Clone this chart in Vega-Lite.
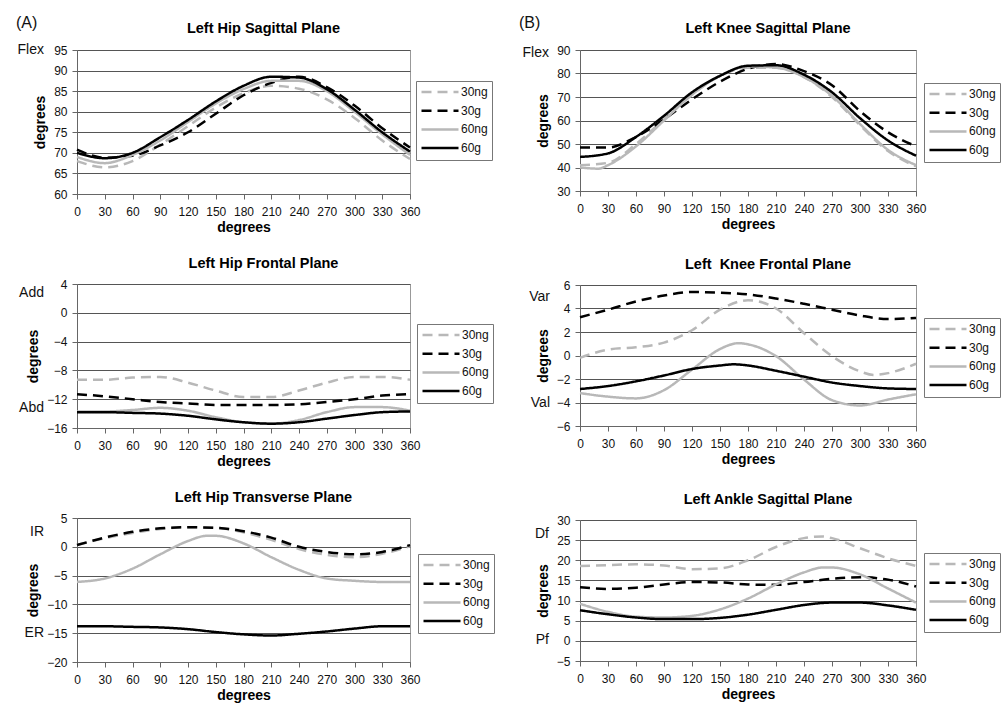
{
"$schema": "https://vega.github.io/schema/vega-lite/v6.json",
"padding": {"left": 15, "top": 14, "right": 5, "bottom": 5},
"background": "white",
"config": {
  "font": "Liberation Sans",
  "view": {"stroke": "#999", "strokeWidth": 1},
  "axis": {"domainColor": "#666", "tickColor": "#666", "labelFont": "Liberation Sans", "labelFontSize": 12, "labelColor": "#111", "titleFont": "Liberation Sans", "titleFontSize": 14, "titleFontWeight": "bold", "titleColor": "#000", "tickSize": 5, "gridColor": "#555", "gridWidth": 1},
  "axisX": {"grid": false, "labelPadding": 7, "titlePadding": 3, "labelFlush": false, "labelOverlap": false},
  "axisY": {"grid": true, "labelPadding": 5, "titlePadding": 6, "labelOverlap": false},
  "title": {"font": "Liberation Sans", "fontSize": 14.5, "fontWeight": "bold", "color": "#000", "offset": 7, "dx": 20},
  "legend": {"title": null, "orient": "none", "strokeColor": "#777", "fillColor": "white", "padding": 4, "symbolType": "stroke", "symbolSize": 1369, "symbolStrokeWidth": 2.5, "labelFont": "Liberation Sans", "labelFontSize": 12, "labelColor": "#111", "labelOffset": 1, "clipHeight": 14, "rowPadding": 4.7},
  "line": {"strokeWidth": 2.5, "interpolate": "monotone"},
  "text": {"font": "Liberation Sans", "color": "#111"}
},
"datasets": {
  "curves": [
    {"p":"A1","c":"30ng","x":0,"y":68},{"p":"A1","c":"30ng","x":30,"y":66.5},{"p":"A1","c":"30ng","x":60,"y":68},{"p":"A1","c":"30ng","x":90,"y":72},{"p":"A1","c":"30ng","x":120,"y":76.5},{"p":"A1","c":"30ng","x":150,"y":81},{"p":"A1","c":"30ng","x":180,"y":84.5},{"p":"A1","c":"30ng","x":210,"y":86.3},{"p":"A1","c":"30ng","x":240,"y":85.6},{"p":"A1","c":"30ng","x":270,"y":83},{"p":"A1","c":"30ng","x":300,"y":78.5},{"p":"A1","c":"30ng","x":330,"y":73},{"p":"A1","c":"30ng","x":360,"y":68.5},
    {"p":"A1","c":"30g","x":0,"y":70.8},{"p":"A1","c":"30g","x":30,"y":68.8},{"p":"A1","c":"30g","x":60,"y":69.3},{"p":"A1","c":"30g","x":90,"y":71.8},{"p":"A1","c":"30g","x":120,"y":75},{"p":"A1","c":"30g","x":150,"y":79.5},{"p":"A1","c":"30g","x":180,"y":84},{"p":"A1","c":"30g","x":210,"y":87},{"p":"A1","c":"30g","x":240,"y":88.5},{"p":"A1","c":"30g","x":270,"y":86},{"p":"A1","c":"30g","x":300,"y":81.5},{"p":"A1","c":"30g","x":330,"y":76},{"p":"A1","c":"30g","x":360,"y":71.3},
    {"p":"A1","c":"60ng","x":0,"y":69},{"p":"A1","c":"60ng","x":30,"y":67.5},{"p":"A1","c":"60ng","x":60,"y":69.5},{"p":"A1","c":"60ng","x":90,"y":73},{"p":"A1","c":"60ng","x":120,"y":77.5},{"p":"A1","c":"60ng","x":150,"y":82},{"p":"A1","c":"60ng","x":180,"y":85.5},{"p":"A1","c":"60ng","x":210,"y":87.5},{"p":"A1","c":"60ng","x":240,"y":87.5},{"p":"A1","c":"60ng","x":270,"y":85},{"p":"A1","c":"60ng","x":300,"y":80},{"p":"A1","c":"60ng","x":330,"y":74.5},{"p":"A1","c":"60ng","x":360,"y":69.5},
    {"p":"A1","c":"60g","x":0,"y":70},{"p":"A1","c":"60g","x":30,"y":68.7},{"p":"A1","c":"60g","x":60,"y":70},{"p":"A1","c":"60g","x":90,"y":73.8},{"p":"A1","c":"60g","x":120,"y":78},{"p":"A1","c":"60g","x":150,"y":82.5},{"p":"A1","c":"60g","x":180,"y":86.3},{"p":"A1","c":"60g","x":210,"y":88.5},{"p":"A1","c":"60g","x":240,"y":88.3},{"p":"A1","c":"60g","x":270,"y":85.5},{"p":"A1","c":"60g","x":300,"y":80.5},{"p":"A1","c":"60g","x":330,"y":75},{"p":"A1","c":"60g","x":360,"y":70.3},

    {"p":"B1","c":"30ng","x":0,"y":41},{"p":"B1","c":"30ng","x":30,"y":42},{"p":"B1","c":"30ng","x":60,"y":50},{"p":"B1","c":"30ng","x":90,"y":60.5},{"p":"B1","c":"30ng","x":120,"y":71},{"p":"B1","c":"30ng","x":150,"y":79},{"p":"B1","c":"30ng","x":180,"y":82.5},{"p":"B1","c":"30ng","x":210,"y":82.5},{"p":"B1","c":"30ng","x":240,"y":78.5},{"p":"B1","c":"30ng","x":270,"y":70},{"p":"B1","c":"30ng","x":300,"y":58},{"p":"B1","c":"30ng","x":330,"y":47},{"p":"B1","c":"30ng","x":360,"y":40.5},
    {"p":"B1","c":"30g","x":0,"y":48.5},{"p":"B1","c":"30g","x":30,"y":48.5},{"p":"B1","c":"30g","x":60,"y":53},{"p":"B1","c":"30g","x":90,"y":60.5},{"p":"B1","c":"30g","x":120,"y":69},{"p":"B1","c":"30g","x":150,"y":76.5},{"p":"B1","c":"30g","x":180,"y":82},{"p":"B1","c":"30g","x":210,"y":84},{"p":"B1","c":"30g","x":240,"y":81},{"p":"B1","c":"30g","x":270,"y":75},{"p":"B1","c":"30g","x":300,"y":64},{"p":"B1","c":"30g","x":330,"y":55},{"p":"B1","c":"30g","x":360,"y":49},
    {"p":"B1","c":"60ng","x":0,"y":40},{"p":"B1","c":"60ng","x":20,"y":39.5},{"p":"B1","c":"60ng","x":30,"y":41},{"p":"B1","c":"60ng","x":60,"y":49},{"p":"B1","c":"60ng","x":90,"y":60},{"p":"B1","c":"60ng","x":120,"y":71},{"p":"B1","c":"60ng","x":150,"y":79},{"p":"B1","c":"60ng","x":180,"y":83},{"p":"B1","c":"60ng","x":210,"y":82.5},{"p":"B1","c":"60ng","x":240,"y":78.5},{"p":"B1","c":"60ng","x":270,"y":70.5},{"p":"B1","c":"60ng","x":300,"y":58.5},{"p":"B1","c":"60ng","x":330,"y":47.5},{"p":"B1","c":"60ng","x":360,"y":41},
    {"p":"B1","c":"60g","x":0,"y":44.5},{"p":"B1","c":"60g","x":30,"y":46},{"p":"B1","c":"60g","x":60,"y":53},{"p":"B1","c":"60g","x":90,"y":62},{"p":"B1","c":"60g","x":120,"y":72},{"p":"B1","c":"60g","x":150,"y":79},{"p":"B1","c":"60g","x":180,"y":83.3},{"p":"B1","c":"60g","x":210,"y":83.5},{"p":"B1","c":"60g","x":240,"y":79.5},{"p":"B1","c":"60g","x":270,"y":72},{"p":"B1","c":"60g","x":300,"y":61},{"p":"B1","c":"60g","x":330,"y":51.5},{"p":"B1","c":"60g","x":360,"y":45},

    {"p":"A2","c":"30ng","x":0,"y":-9.3},{"p":"A2","c":"30ng","x":30,"y":-9.3},{"p":"A2","c":"30ng","x":60,"y":-9.0},{"p":"A2","c":"30ng","x":90,"y":-8.9},{"p":"A2","c":"30ng","x":120,"y":-9.7},{"p":"A2","c":"30ng","x":150,"y":-10.8},{"p":"A2","c":"30ng","x":180,"y":-11.7},{"p":"A2","c":"30ng","x":210,"y":-11.7},{"p":"A2","c":"30ng","x":240,"y":-10.8},{"p":"A2","c":"30ng","x":270,"y":-9.7},{"p":"A2","c":"30ng","x":300,"y":-8.9},{"p":"A2","c":"30ng","x":330,"y":-8.9},{"p":"A2","c":"30ng","x":360,"y":-9.3},
    {"p":"A2","c":"30g","x":0,"y":-11.3},{"p":"A2","c":"30g","x":30,"y":-11.6},{"p":"A2","c":"30g","x":60,"y":-12.0},{"p":"A2","c":"30g","x":90,"y":-12.4},{"p":"A2","c":"30g","x":120,"y":-12.6},{"p":"A2","c":"30g","x":150,"y":-12.8},{"p":"A2","c":"30g","x":180,"y":-12.8},{"p":"A2","c":"30g","x":210,"y":-12.8},{"p":"A2","c":"30g","x":240,"y":-12.7},{"p":"A2","c":"30g","x":270,"y":-12.4},{"p":"A2","c":"30g","x":300,"y":-12.0},{"p":"A2","c":"30g","x":330,"y":-11.5},{"p":"A2","c":"30g","x":360,"y":-11.3},
    {"p":"A2","c":"60ng","x":0,"y":-13.7},{"p":"A2","c":"60ng","x":30,"y":-13.7},{"p":"A2","c":"60ng","x":60,"y":-13.5},{"p":"A2","c":"60ng","x":90,"y":-13.2},{"p":"A2","c":"60ng","x":120,"y":-13.6},{"p":"A2","c":"60ng","x":150,"y":-14.5},{"p":"A2","c":"60ng","x":180,"y":-15.2},{"p":"A2","c":"60ng","x":210,"y":-15.4},{"p":"A2","c":"60ng","x":240,"y":-14.9},{"p":"A2","c":"60ng","x":270,"y":-13.8},{"p":"A2","c":"60ng","x":300,"y":-13.1},{"p":"A2","c":"60ng","x":330,"y":-13.1},{"p":"A2","c":"60ng","x":360,"y":-13.6},
    {"p":"A2","c":"60g","x":0,"y":-13.8},{"p":"A2","c":"60g","x":30,"y":-13.8},{"p":"A2","c":"60g","x":60,"y":-13.9},{"p":"A2","c":"60g","x":90,"y":-14.0},{"p":"A2","c":"60g","x":120,"y":-14.3},{"p":"A2","c":"60g","x":150,"y":-14.8},{"p":"A2","c":"60g","x":180,"y":-15.2},{"p":"A2","c":"60g","x":210,"y":-15.4},{"p":"A2","c":"60g","x":240,"y":-15.2},{"p":"A2","c":"60g","x":270,"y":-14.7},{"p":"A2","c":"60g","x":300,"y":-14.2},{"p":"A2","c":"60g","x":330,"y":-13.8},{"p":"A2","c":"60g","x":360,"y":-13.7},

    {"p":"B2","c":"30ng","x":0,"y":-0.2},{"p":"B2","c":"30ng","x":30,"y":0.5},{"p":"B2","c":"30ng","x":60,"y":0.7},{"p":"B2","c":"30ng","x":90,"y":1.1},{"p":"B2","c":"30ng","x":120,"y":2.15},{"p":"B2","c":"30ng","x":150,"y":3.9},{"p":"B2","c":"30ng","x":180,"y":4.7},{"p":"B2","c":"30ng","x":210,"y":4.0},{"p":"B2","c":"30ng","x":240,"y":1.9},{"p":"B2","c":"30ng","x":270,"y":-0.05},{"p":"B2","c":"30ng","x":300,"y":-1.35},{"p":"B2","c":"30ng","x":315,"y":-1.65},{"p":"B2","c":"30ng","x":330,"y":-1.5},{"p":"B2","c":"30ng","x":360,"y":-0.7},
    {"p":"B2","c":"30g","x":0,"y":3.26},{"p":"B2","c":"30g","x":30,"y":3.9},{"p":"B2","c":"30g","x":60,"y":4.6},{"p":"B2","c":"30g","x":90,"y":5.1},{"p":"B2","c":"30g","x":120,"y":5.4},{"p":"B2","c":"30g","x":150,"y":5.35},{"p":"B2","c":"30g","x":180,"y":5.2},{"p":"B2","c":"30g","x":210,"y":4.85},{"p":"B2","c":"30g","x":240,"y":4.4},{"p":"B2","c":"30g","x":270,"y":3.9},{"p":"B2","c":"30g","x":300,"y":3.4},{"p":"B2","c":"30g","x":330,"y":3.1},{"p":"B2","c":"30g","x":360,"y":3.2},
    {"p":"B2","c":"60ng","x":0,"y":-3.2},{"p":"B2","c":"60ng","x":30,"y":-3.5},{"p":"B2","c":"60ng","x":60,"y":-3.65},{"p":"B2","c":"60ng","x":90,"y":-2.95},{"p":"B2","c":"60ng","x":120,"y":-1.2},{"p":"B2","c":"60ng","x":150,"y":0.55},{"p":"B2","c":"60ng","x":170,"y":1.05},{"p":"B2","c":"60ng","x":180,"y":0.95},{"p":"B2","c":"60ng","x":210,"y":-0.05},{"p":"B2","c":"60ng","x":240,"y":-2.05},{"p":"B2","c":"60ng","x":270,"y":-3.8},{"p":"B2","c":"60ng","x":300,"y":-4.25},{"p":"B2","c":"60ng","x":330,"y":-3.75},{"p":"B2","c":"60ng","x":360,"y":-3.3},
    {"p":"B2","c":"60g","x":0,"y":-2.85},{"p":"B2","c":"60g","x":30,"y":-2.6},{"p":"B2","c":"60g","x":60,"y":-2.2},{"p":"B2","c":"60g","x":90,"y":-1.7},{"p":"B2","c":"60g","x":120,"y":-1.15},{"p":"B2","c":"60g","x":150,"y":-0.85},{"p":"B2","c":"60g","x":165,"y":-0.75},{"p":"B2","c":"60g","x":180,"y":-0.85},{"p":"B2","c":"60g","x":210,"y":-1.3},{"p":"B2","c":"60g","x":240,"y":-1.8},{"p":"B2","c":"60g","x":270,"y":-2.3},{"p":"B2","c":"60g","x":300,"y":-2.6},{"p":"B2","c":"60g","x":330,"y":-2.8},{"p":"B2","c":"60g","x":360,"y":-2.85},

    {"p":"A3","c":"30ng","x":0,"y":0.3},{"p":"A3","c":"30ng","x":30,"y":1.5},{"p":"A3","c":"30ng","x":60,"y":2.4},{"p":"A3","c":"30ng","x":90,"y":3.1},{"p":"A3","c":"30ng","x":120,"y":3.4},{"p":"A3","c":"30ng","x":150,"y":3.3},{"p":"A3","c":"30ng","x":180,"y":2.5},{"p":"A3","c":"30ng","x":210,"y":1.2},{"p":"A3","c":"30ng","x":240,"y":-0.4},{"p":"A3","c":"30ng","x":270,"y":-1.4},{"p":"A3","c":"30ng","x":300,"y":-1.8},{"p":"A3","c":"30ng","x":330,"y":-1.2},{"p":"A3","c":"30ng","x":360,"y":0.1},
    {"p":"A3","c":"30g","x":0,"y":0.3},{"p":"A3","c":"30g","x":30,"y":1.6},{"p":"A3","c":"30g","x":60,"y":2.6},{"p":"A3","c":"30g","x":90,"y":3.2},{"p":"A3","c":"30g","x":120,"y":3.4},{"p":"A3","c":"30g","x":150,"y":3.3},{"p":"A3","c":"30g","x":180,"y":2.7},{"p":"A3","c":"30g","x":210,"y":1.6},{"p":"A3","c":"30g","x":240,"y":0},{"p":"A3","c":"30g","x":270,"y":-0.9},{"p":"A3","c":"30g","x":300,"y":-1.3},{"p":"A3","c":"30g","x":330,"y":-0.9},{"p":"A3","c":"30g","x":360,"y":0.3},
    {"p":"A3","c":"60ng","x":0,"y":-6.1},{"p":"A3","c":"60ng","x":30,"y":-5.5},{"p":"A3","c":"60ng","x":60,"y":-3.8},{"p":"A3","c":"60ng","x":90,"y":-1.3},{"p":"A3","c":"60ng","x":120,"y":1.0},{"p":"A3","c":"60ng","x":140,"y":1.9},{"p":"A3","c":"60ng","x":150,"y":1.9},{"p":"A3","c":"60ng","x":180,"y":0.6},{"p":"A3","c":"60ng","x":210,"y":-1.8},{"p":"A3","c":"60ng","x":240,"y":-4.0},{"p":"A3","c":"60ng","x":270,"y":-5.5},{"p":"A3","c":"60ng","x":300,"y":-5.9},{"p":"A3","c":"60ng","x":330,"y":-6.1},{"p":"A3","c":"60ng","x":360,"y":-6.1},
    {"p":"A3","c":"60g","x":0,"y":-13.8},{"p":"A3","c":"60g","x":30,"y":-13.8},{"p":"A3","c":"60g","x":60,"y":-13.9},{"p":"A3","c":"60g","x":90,"y":-14.0},{"p":"A3","c":"60g","x":120,"y":-14.3},{"p":"A3","c":"60g","x":150,"y":-14.8},{"p":"A3","c":"60g","x":180,"y":-15.2},{"p":"A3","c":"60g","x":210,"y":-15.4},{"p":"A3","c":"60g","x":240,"y":-15.1},{"p":"A3","c":"60g","x":270,"y":-14.7},{"p":"A3","c":"60g","x":300,"y":-14.2},{"p":"A3","c":"60g","x":330,"y":-13.8},{"p":"A3","c":"60g","x":360,"y":-13.8},

    {"p":"B3","c":"30ng","x":0,"y":18.6},{"p":"B3","c":"30ng","x":30,"y":18.8},{"p":"B3","c":"30ng","x":60,"y":19},{"p":"B3","c":"30ng","x":90,"y":18.7},{"p":"B3","c":"30ng","x":120,"y":17.8},{"p":"B3","c":"30ng","x":150,"y":18},{"p":"B3","c":"30ng","x":180,"y":20},{"p":"B3","c":"30ng","x":210,"y":23.3},{"p":"B3","c":"30ng","x":240,"y":25.5},{"p":"B3","c":"30ng","x":260,"y":25.9},{"p":"B3","c":"30ng","x":270,"y":25.5},{"p":"B3","c":"30ng","x":300,"y":23},{"p":"B3","c":"30ng","x":330,"y":20.5},{"p":"B3","c":"30ng","x":360,"y":18.6},
    {"p":"B3","c":"30g","x":0,"y":13.3},{"p":"B3","c":"30g","x":30,"y":12.9},{"p":"B3","c":"30g","x":60,"y":13.2},{"p":"B3","c":"30g","x":90,"y":14.0},{"p":"B3","c":"30g","x":120,"y":14.6},{"p":"B3","c":"30g","x":150,"y":14.5},{"p":"B3","c":"30g","x":180,"y":14.0},{"p":"B3","c":"30g","x":210,"y":13.9},{"p":"B3","c":"30g","x":240,"y":14.6},{"p":"B3","c":"30g","x":270,"y":15.4},{"p":"B3","c":"30g","x":300,"y":15.8},{"p":"B3","c":"30g","x":330,"y":15.2},{"p":"B3","c":"30g","x":360,"y":13.5},
    {"p":"B3","c":"60ng","x":0,"y":9.2},{"p":"B3","c":"60ng","x":30,"y":7.2},{"p":"B3","c":"60ng","x":60,"y":6.0},{"p":"B3","c":"60ng","x":90,"y":5.8},{"p":"B3","c":"60ng","x":120,"y":6.2},{"p":"B3","c":"60ng","x":150,"y":7.8},{"p":"B3","c":"60ng","x":180,"y":10.5},{"p":"B3","c":"60ng","x":210,"y":14.0},{"p":"B3","c":"60ng","x":240,"y":17.0},{"p":"B3","c":"60ng","x":260,"y":18.2},{"p":"B3","c":"60ng","x":270,"y":18.2},{"p":"B3","c":"60ng","x":300,"y":16.5},{"p":"B3","c":"60ng","x":330,"y":13},{"p":"B3","c":"60ng","x":360,"y":9.5},
    {"p":"B3","c":"60g","x":0,"y":7.6},{"p":"B3","c":"60g","x":30,"y":6.6},{"p":"B3","c":"60g","x":60,"y":5.8},{"p":"B3","c":"60g","x":90,"y":5.4},{"p":"B3","c":"60g","x":120,"y":5.4},{"p":"B3","c":"60g","x":150,"y":5.7},{"p":"B3","c":"60g","x":180,"y":6.5},{"p":"B3","c":"60g","x":210,"y":7.7},{"p":"B3","c":"60g","x":240,"y":8.9},{"p":"B3","c":"60g","x":270,"y":9.5},{"p":"B3","c":"60g","x":300,"y":9.5},{"p":"B3","c":"60g","x":330,"y":8.8},{"p":"B3","c":"60g","x":360,"y":7.7}
  ],
  "labels": [
    {"p":"A1","t":"Flex","y":95},{"p":"B1","t":"Flex","y":90},
    {"p":"A2","t":"Add","y":2.8},{"p":"A2","t":"Abd","y":-13.2},
    {"p":"B2","t":"Var","y":4.95},{"p":"B2","t":"Val","y":-4.07},
    {"p":"A3","t":"IR","y":2.55},{"p":"A3","t":"ER","y":-14.9},
    {"p":"B3","t":"Df","y":26.5},{"p":"B3","t":"Pf","y":0.2}
  ],
  "letters": [
    {"p":"A1","t":"(A)","y":95},{"p":"B1","t":"(B)","y":90}
  ]
},
"spacing": 23,
"resolve": {"scale": {"color": "independent", "strokeDash": "independent"}, "legend": {"color": "independent", "strokeDash": "independent"}},
"hconcat": [
 {
  "bounds": "flush",
  "spacing": 90,
  "resolve": {"scale": {"color": "independent", "strokeDash": "independent"}, "legend": {"color": "independent", "strokeDash": "independent"}},
  "vconcat": [
   {
    "width": 333, "height": 144,
    "title": {"text": "Left Hip Sagittal Plane", "dy": 28},
    "layer": [
     {"data": {"name": "curves"}, "transform": [{"filter": "datum.p == 'A1'"}], "mark": {"type": "line"},
      "encoding": {
       "x": {"field": "x", "type": "quantitative", "scale": {"domain": [0, 360], "nice": false}, "axis": {"values": [0,30,60,90,120,150,180,210,240,270,300,330,360], "title": "degrees"}},
       "y": {"field": "y", "type": "quantitative", "scale": {"domain": [60, 95], "nice": false, "zero": false}, "axis": {"values": [60,65,70,75,80,85,90,95], "title": "degrees"}},
       "color": {"field": "c", "type": "nominal", "scale": {"domain": ["30ng","30g","60ng","60g"], "range": ["#b8b8b8","#000000","#b8b8b8","#000000"]}, "legend": {"legendX": 339, "legendY": 31}},
       "strokeDash": {"field": "c", "type": "nominal", "scale": {"domain": ["30ng","30g","60ng","60g"], "range": [[10,6],[10,6],[1,0],[1,0]]}, "legend": {"legendX": 339, "legendY": 31}}
      }},
     {"data": {"name": "labels"}, "transform": [{"filter": "datum.p == 'A1'"}], "mark": {"type": "text", "align": "right", "baseline": "middle", "dx": -33, "fontSize": 14},
      "encoding": {"x": {"datum": 0, "type": "quantitative", "scale": {"domain": [0, 360], "nice": false}, "axis": {"values": [0,30,60,90,120,150,180,210,240,270,300,330,360], "title": "degrees"}}, "y": {"field": "y", "type": "quantitative", "scale": {"domain": [60, 95], "nice": false, "zero": false}, "axis": {"values": [60,65,70,75,80,85,90,95], "title": "degrees"}}, "text": {"field": "t"}}},
     {"data": {"name": "letters"}, "transform": [{"filter": "datum.p == 'A1'"}], "mark": {"type": "text", "align": "left", "baseline": "middle", "dx": -61, "dy": -27, "fontSize": 16},
      "encoding": {"x": {"datum": 0, "type": "quantitative", "scale": {"domain": [0, 360], "nice": false}, "axis": {"values": [0,30,60,90,120,150,180,210,240,270,300,330,360], "title": "degrees"}}, "y": {"field": "y", "type": "quantitative", "scale": {"domain": [60, 95], "nice": false, "zero": false}, "axis": {"values": [60,65,70,75,80,85,90,95], "title": "degrees"}}, "text": {"field": "t"}}}
    ]
   },
   {
    "width": 333, "height": 144,
    "title": {"text": "Left Hip Frontal Plane"},
    "layer": [
     {"data": {"name": "curves"}, "transform": [{"filter": "datum.p == 'A2'"}], "mark": {"type": "line"},
      "encoding": {
       "x": {"field": "x", "type": "quantitative", "scale": {"domain": [0, 360], "nice": false}, "axis": {"values": [0,30,60,90,120,150,180,210,240,270,300,330,360], "title": "degrees"}},
       "y": {"field": "y", "type": "quantitative", "scale": {"domain": [-16, 4], "nice": false, "zero": false}, "axis": {"values": [-16,-12,-8,-4,0,4], "title": "degrees"}},
       "color": {"field": "c", "type": "nominal", "scale": {"domain": ["30ng","30g","60ng","60g"], "range": ["#b8b8b8","#000000","#b8b8b8","#000000"]}, "legend": {"legendX": 340, "legendY": 40}},
       "strokeDash": {"field": "c", "type": "nominal", "scale": {"domain": ["30ng","30g","60ng","60g"], "range": [[10,6],[10,6],[1,0],[1,0]]}, "legend": {"legendX": 340, "legendY": 40}}
      }},
     {"data": {"name": "labels"}, "transform": [{"filter": "datum.p == 'A2'"}], "mark": {"type": "text", "align": "right", "baseline": "middle", "dx": -33, "fontSize": 14},
      "encoding": {"x": {"datum": 0, "type": "quantitative", "scale": {"domain": [0, 360], "nice": false}, "axis": {"values": [0,30,60,90,120,150,180,210,240,270,300,330,360], "title": "degrees"}}, "y": {"field": "y", "type": "quantitative", "scale": {"domain": [-16, 4], "nice": false, "zero": false}, "axis": {"values": [-16,-12,-8,-4,0,4], "title": "degrees"}}, "text": {"field": "t"}}}
    ]
   },
   {
    "width": 333, "height": 144,
    "title": {"text": "Left Hip Transverse Plane"},
    "layer": [
     {"data": {"name": "curves"}, "transform": [{"filter": "datum.p == 'A3'"}], "mark": {"type": "line"},
      "encoding": {
       "x": {"field": "x", "type": "quantitative", "scale": {"domain": [0, 360], "nice": false}, "axis": {"values": [0,30,60,90,120,150,180,210,240,270,300,330,360], "title": "degrees"}},
       "y": {"field": "y", "type": "quantitative", "scale": {"domain": [-20, 5], "nice": false, "zero": false}, "axis": {"values": [-20,-15,-10,-5,0,5], "title": "degrees"}},
       "color": {"field": "c", "type": "nominal", "scale": {"domain": ["30ng","30g","60ng","60g"], "range": ["#b8b8b8","#000000","#b8b8b8","#000000"]}, "legend": {"legendX": 341, "legendY": 36}},
       "strokeDash": {"field": "c", "type": "nominal", "scale": {"domain": ["30ng","30g","60ng","60g"], "range": [[10,6],[10,6],[1,0],[1,0]]}, "legend": {"legendX": 341, "legendY": 36}}
      }},
     {"data": {"name": "labels"}, "transform": [{"filter": "datum.p == 'A3'"}], "mark": {"type": "text", "align": "right", "baseline": "middle", "dx": -33, "fontSize": 14},
      "encoding": {"x": {"datum": 0, "type": "quantitative", "scale": {"domain": [0, 360], "nice": false}, "axis": {"values": [0,30,60,90,120,150,180,210,240,270,300,330,360], "title": "degrees"}}, "y": {"field": "y", "type": "quantitative", "scale": {"domain": [-20, 5], "nice": false, "zero": false}, "axis": {"values": [-20,-15,-10,-5,0,5], "title": "degrees"}}, "text": {"field": "t"}}}
    ]
   }
  ]
 },
 {
  "bounds": "flush",
  "spacing": 94,
  "resolve": {"scale": {"color": "independent", "strokeDash": "independent"}, "legend": {"color": "independent", "strokeDash": "independent"}},
  "vconcat": [
   {
    "width": 336, "height": 141,
    "title": {"text": "Left Knee Sagittal Plane", "dy": 28},
    "layer": [
     {"data": {"name": "curves"}, "transform": [{"filter": "datum.p == 'B1'"}], "mark": {"type": "line"},
      "encoding": {
       "x": {"field": "x", "type": "quantitative", "scale": {"domain": [0, 360], "nice": false}, "axis": {"values": [0,30,60,90,120,150,180,210,240,270,300,330,360], "title": "degrees"}},
       "y": {"field": "y", "type": "quantitative", "scale": {"domain": [30, 90], "nice": false, "zero": false}, "axis": {"values": [30,40,50,60,70,80,90], "title": "degrees"}},
       "color": {"field": "c", "type": "nominal", "scale": {"domain": ["30ng","30g","60ng","60g"], "range": ["#b8b8b8","#000000","#b8b8b8","#000000"]}, "legend": {"legendX": 344, "legendY": 33}},
       "strokeDash": {"field": "c", "type": "nominal", "scale": {"domain": ["30ng","30g","60ng","60g"], "range": [[10,6],[10,6],[1,0],[1,0]]}, "legend": {"legendX": 344, "legendY": 33}}
      }},
     {"data": {"name": "labels"}, "transform": [{"filter": "datum.p == 'B1'"}], "mark": {"type": "text", "align": "right", "baseline": "middle", "dx": -31, "dy": 3, "fontSize": 14},
      "encoding": {"x": {"datum": 0, "type": "quantitative", "scale": {"domain": [0, 360], "nice": false}, "axis": {"values": [0,30,60,90,120,150,180,210,240,270,300,330,360], "title": "degrees"}}, "y": {"field": "y", "type": "quantitative", "scale": {"domain": [30, 90], "nice": false, "zero": false}, "axis": {"values": [30,40,50,60,70,80,90], "title": "degrees"}}, "text": {"field": "t"}}},
     {"data": {"name": "letters"}, "transform": [{"filter": "datum.p == 'B1'"}], "mark": {"type": "text", "align": "left", "baseline": "middle", "dx": -61, "dy": -27, "fontSize": 16},
      "encoding": {"x": {"datum": 0, "type": "quantitative", "scale": {"domain": [0, 360], "nice": false}, "axis": {"values": [0,30,60,90,120,150,180,210,240,270,300,330,360], "title": "degrees"}}, "y": {"field": "y", "type": "quantitative", "scale": {"domain": [30, 90], "nice": false, "zero": false}, "axis": {"values": [30,40,50,60,70,80,90], "title": "degrees"}}, "text": {"field": "t"}}}
    ]
   },
   {
    "width": 336, "height": 141,
    "title": {"text": "Left\u00a0 Knee Frontal Plane"},
    "layer": [
     {"data": {"name": "curves"}, "transform": [{"filter": "datum.p == 'B2'"}], "mark": {"type": "line"},
      "encoding": {
       "x": {"field": "x", "type": "quantitative", "scale": {"domain": [0, 360], "nice": false}, "axis": {"values": [0,30,60,90,120,150,180,210,240,270,300,330,360], "title": "degrees"}},
       "y": {"field": "y", "type": "quantitative", "scale": {"domain": [-6, 6], "nice": false, "zero": false}, "axis": {"values": [-6,-4,-2,0,2,4,6], "title": "degrees"}},
       "color": {"field": "c", "type": "nominal", "scale": {"domain": ["30ng","30g","60ng","60g"], "range": ["#b8b8b8","#000000","#b8b8b8","#000000"]}, "legend": {"legendX": 344, "legendY": 33}},
       "strokeDash": {"field": "c", "type": "nominal", "scale": {"domain": ["30ng","30g","60ng","60g"], "range": [[10,6],[10,6],[1,0],[1,0]]}, "legend": {"legendX": 344, "legendY": 33}}
      }},
     {"data": {"name": "labels"}, "transform": [{"filter": "datum.p == 'B2'"}], "mark": {"type": "text", "align": "right", "baseline": "middle", "dx": -30, "fontSize": 14},
      "encoding": {"x": {"datum": 0, "type": "quantitative", "scale": {"domain": [0, 360], "nice": false}, "axis": {"values": [0,30,60,90,120,150,180,210,240,270,300,330,360], "title": "degrees"}}, "y": {"field": "y", "type": "quantitative", "scale": {"domain": [-6, 6], "nice": false, "zero": false}, "axis": {"values": [-6,-4,-2,0,2,4,6], "title": "degrees"}}, "text": {"field": "t"}}}
    ]
   },
   {
    "width": 336, "height": 141,
    "title": {"text": "Left Ankle Sagittal Plane"},
    "layer": [
     {"data": {"name": "curves"}, "transform": [{"filter": "datum.p == 'B3'"}], "mark": {"type": "line"},
      "encoding": {
       "x": {"field": "x", "type": "quantitative", "scale": {"domain": [0, 360], "nice": false}, "axis": {"values": [0,30,60,90,120,150,180,210,240,270,300,330,360], "title": "degrees"}},
       "y": {"field": "y", "type": "quantitative", "scale": {"domain": [-5, 30], "nice": false, "zero": false}, "axis": {"values": [-5,0,5,10,15,20,25,30], "title": "degrees"}},
       "color": {"field": "c", "type": "nominal", "scale": {"domain": ["30ng","30g","60ng","60g"], "range": ["#b8b8b8","#000000","#b8b8b8","#000000"]}, "legend": {"legendX": 344, "legendY": 33}},
       "strokeDash": {"field": "c", "type": "nominal", "scale": {"domain": ["30ng","30g","60ng","60g"], "range": [[10,6],[10,6],[1,0],[1,0]]}, "legend": {"legendX": 344, "legendY": 33}}
      }},
     {"data": {"name": "labels"}, "transform": [{"filter": "datum.p == 'B3'"}], "mark": {"type": "text", "align": "right", "baseline": "middle", "dx": -31, "fontSize": 14},
      "encoding": {"x": {"datum": 0, "type": "quantitative", "scale": {"domain": [0, 360], "nice": false}, "axis": {"values": [0,30,60,90,120,150,180,210,240,270,300,330,360], "title": "degrees"}}, "y": {"field": "y", "type": "quantitative", "scale": {"domain": [-5, 30], "nice": false, "zero": false}, "axis": {"values": [-5,0,5,10,15,20,25,30], "title": "degrees"}}, "text": {"field": "t"}}}
    ]
   }
  ]
 }
]
}
